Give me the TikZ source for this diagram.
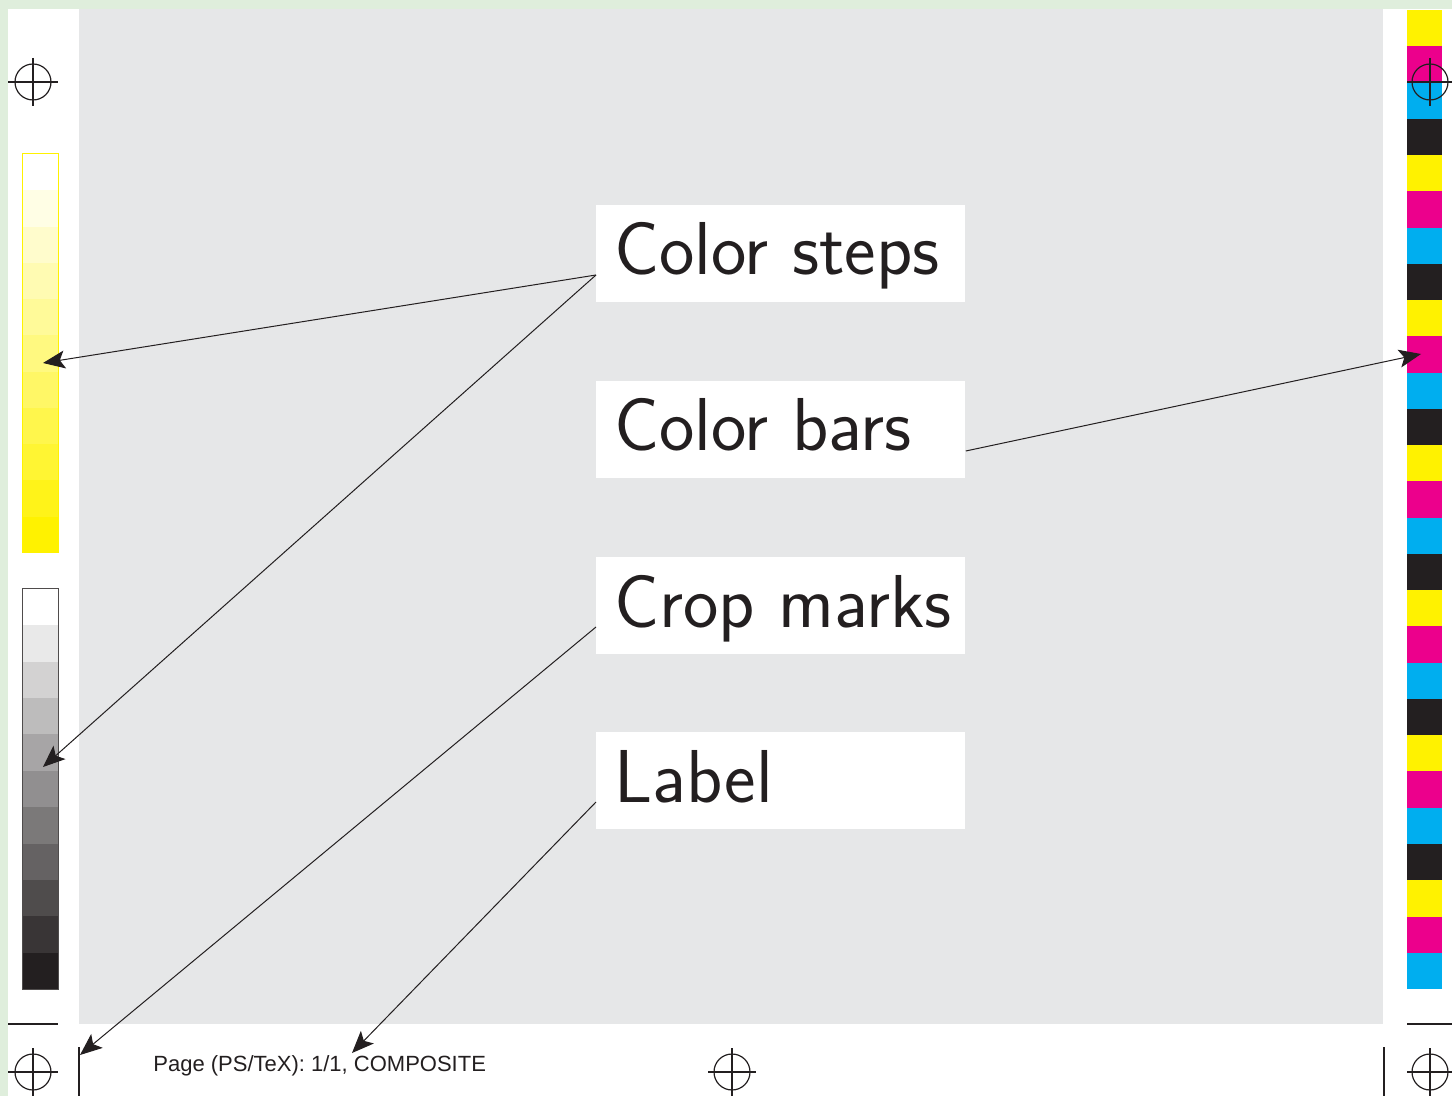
\documentclass[tikz,border=0pt]{standalone}
\usepackage{fontspec}
\newfontfamily\pagefont{Liberation Sans}
\usetikzlibrary{arrows.meta,calc}
\definecolor{pgreen}{HTML}{DFEEDC}
\definecolor{pgrey}{HTML}{E6E7E8}
\definecolor{pyellow}{HTML}{FFF200}
\definecolor{pmagenta}{HTML}{EC008C}
\definecolor{pcyan}{HTML}{00AEEF}
\definecolor{pblack}{HTML}{231F20}
\begin{document}
\begin{tikzpicture}[x=0.5pt,y=-0.5pt,
  labelbox/.style={draw=none,fill=white,rectangle,minimum width=184.5pt,minimum height=48.5pt,inner sep=0pt,anchor=north west},
  labeltext/.style={font=\sffamily\fontsize{37.5}{42}\selectfont,text=pblack,inner sep=0pt,anchor=base west},
  arr/.style={draw=pblack,line width=0.5pt,-{Stealth[length=11pt,width=9pt,inset=2.5pt]}},
  cropline/.style={draw=pblack,line width=0.6pt},
  regmark/.style={draw=pblack,line width=0.6pt}
]
\useasboundingbox (0,0) rectangle (1452,1096);
% background
\fill[pgreen] (0,0) rectangle (1452,1096);
\fill[white] (8,9) rectangle (1452,1096);
\fill[pgrey] (79,9) rectangle (1383,1024);
% yellow steps
\foreach \i in {0,...,10}{
  \pgfmathtruncatemacro\pct{\i*10}
  \fill[pyellow!\pct!white] (22,{154+\i*36.27}) rectangle (58,{154+(\i+1)*36.27});
}
\draw[pyellow,line width=0.5pt] (22,154) rectangle (58,553);
% grey steps
\foreach \i in {0,...,10}{
  \pgfmathtruncatemacro\pct{\i*10}
  \fill[pblack!\pct!white] (22,{589+\i*36.36}) rectangle (58,{589+(\i+1)*36.36});
}
\draw[pblack!80,line width=0.5pt] (22,589) rectangle (58,989);
% colour bars
\foreach \c [count=\i from 0] in {pyellow,pmagenta,pcyan,pblack,pyellow,pmagenta,pcyan,pblack,pyellow,pmagenta,pcyan,pblack,pyellow,pmagenta,pcyan,pblack,pyellow,pmagenta,pcyan,pblack,pyellow,pmagenta,pcyan,pblack,pyellow,pmagenta,pcyan}{
  \fill[\c] (1407,{10+\i*36.26}) rectangle (1442,{10+(\i+1)*36.26});
}
% registration marks
\foreach \cx/\cy/\xa/\xb/\nm in {33/82/8/58/rtl,1430/82/1407/1452/rtr,33/1072/8/58/rbl,732/1072/708/756/rbm,1430/1072/1407/1452/rbr}{
  \coordinate (\nm) at (\cx,\cy);
  \draw[regmark] (\nm) circle[radius=9pt];
  \draw[regmark] (\xa,\cy) -- (\xb,\cy);
  \draw[regmark] (\cx,{\cy-24}) -- (\cx,{\cy+24});
}
% crop marks
\draw[cropline] (8,1024) -- (58,1024);
\draw[cropline] (1407,1024) -- (1452,1024);
\coordinate (cropL) at (79,1047);
\draw[cropline] (cropL) -- (79,1096);
\draw[cropline] (1384,1047) -- (1384,1096);
% page label
\node[font=\pagefont\fontsize{11}{13}\selectfont,text=pblack,inner sep=0pt,anchor=base west] (page) at (153,1071) {Page (PS/TeX): 1/1, COMPOSITE};
% label boxes
\node[labelbox] (cs) at (596,205) {};
\node[labeltext] (cst) at (614,275) {Color steps};
\node[labelbox] (cb) at (596,381) {};
\node[labeltext] (cbt) at (614,451) {Color bars};
\node[labelbox] (cm) at (596,557) {};
\node[labeltext] (cmt) at (614,627) {Crop marks};
\node[labelbox] (lb) at (596,732) {};
\node[labeltext] (lbt) at (614,802) {Label};
% arrow targets
\coordinate (ystep) at (43,363);
\coordinate (gstep) at (43,767);
\coordinate (bar) at (1421,354);
\coordinate (crop) at (80,1055);
\coordinate (lab) at (352,1053);
% arrows
\draw[arr] (cs.west |- cst.base) -- (ystep);
\draw[arr] (cs.west |- cst.base) -- (gstep);
\draw[arr] (cb.east |- cbt.base) -- (bar);
\draw[arr] (cm.west |- cmt.base) -- (crop);
\draw[arr] (lb.west |- lbt.base) -- (lab);
\end{tikzpicture}
\end{document}
